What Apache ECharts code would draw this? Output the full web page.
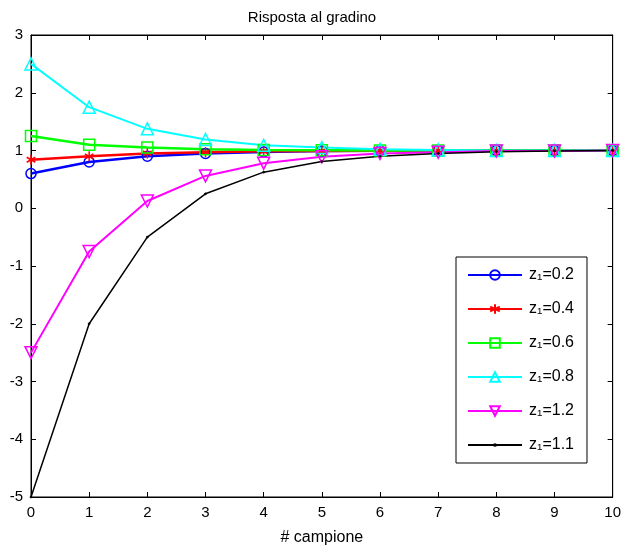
<!DOCTYPE html>
<html>
<head>
<meta charset="utf-8">
<script src="https://cdn.jsdelivr.net/npm/echarts@6/dist/echarts.min.js"></script>
<style>
  html, body { margin: 0; padding: 0; background: #fff; }
  #main { width: 624px; height: 554px; }
</style>
</head>
<body>
<div id="main"></div>
<script>
var samples = [0, 1, 2, 3, 4, 5, 6, 7, 8, 9, 10];
var names = ['z\u2081=0.2', 'z\u2081=0.4', 'z\u2081=0.6', 'z\u2081=0.8', 'z\u2081=1.2', 'z\u2081=1.1'];
var z02 = [0.6, 0.8, 0.9, 0.95, 0.975, 0.99, 0.995, 1, 1, 1, 1];
var z04 = [0.84, 0.9, 0.95, 0.97, 0.985, 0.99, 0.995, 1, 1, 1, 1];
var z06 = [1.25, 1.1, 1.05, 1.02, 1.01, 1.005, 1, 1, 1, 1, 1];
var z08 = [2.5, 1.75, 1.375, 1.19, 1.09, 1.05, 1.02, 1.01, 1, 1, 1];
var z12 = [-2.5, -0.75, 0.125, 0.56, 0.78, 0.89, 0.95, 0.97, 0.99, 0.99, 1];
var z11 = [-5, -2, -0.5, 0.25, 0.625, 0.81, 0.9, 0.95, 0.98, 0.99, 1];

var asterisk = 'path://M0,-5L0,5M-4.3,-2.5L4.3,2.5M-4.3,2.5L4.3,-2.5';
// small dot inside a larger invisible box so it stays small in the legend too
var dot = 'path://M-10,-10L-10,-10M10,10L10,10M-1.8,0A1.8,1.8,0,1,0,1.8,0A1.8,1.8,0,1,0,-1.8,0Z';
var font = 'Liberation Sans, Arial, sans-serif';

function pairs(vals) {
  return samples.map(function (x, i) { return [x, vals[i]]; });
}

function mkSeries(name, vals, color, symbol, size, width, rotate, filled) {
  return {
    name: name,
    type: 'line',
    data: pairs(vals),
    symbol: symbol,
    symbolSize: size,
    symbolRotate: rotate || 0,
    symbolKeepAspect: true,
    showAllSymbol: true,
    lineStyle: { color: color, width: width },
    itemStyle: { color: filled ? color : 'rgba(0,0,0,0)', borderColor: color, borderWidth: filled ? 0.5 : 1.5 },
    emphasis: { disabled: true },
    z: 2
  };
}

var tick = { inside: true, length: 5, lineStyle: { color: '#000' } };

var chart = echarts.init(document.getElementById('main'));
var option = {
  backgroundColor: '#fff',
  animation: false,
  title: {
    text: 'Risposta al gradino',
    left: 'center',
    top: 5,
    textStyle: { fontFamily: font, fontSize: 15, fontWeight: 'normal', color: '#000' }
  },
  grid: { left: 31, right: 6, top: 35, bottom: 57, show: true, borderColor: '#000', borderWidth: 1 },
  legend: {
    orient: 'vertical',
    left: 456,
    top: 257,
    padding: [10, 13, 10, 11],
    itemGap: 18,
    itemWidth: 54,
    itemHeight: 12,
    borderColor: '#000',
    borderWidth: 1,
    backgroundColor: '#fff',
    data: names,
    textStyle: { fontFamily: font, fontSize: 16, color: '#000', padding: [0, 0, 0, 2] }
  },
  xAxis: [{
    type: 'value', min: 0, max: 10, interval: 1,
    name: '# campione', nameLocation: 'middle', nameGap: 33,
    nameTextStyle: { fontFamily: font, fontSize: 16, color: '#000' },
    axisLine: { onZero: false, lineStyle: { color: '#000' } },
    axisTick: tick,
    axisLabel: { fontFamily: font, fontSize: 15, color: '#000', margin: 8 },
    splitLine: { show: false }
  }, {
    type: 'value', min: 0, max: 10, interval: 1, position: 'top',
    axisLine: { onZero: false, lineStyle: { color: '#000' } },
    axisTick: tick,
    axisLabel: { show: false },
    splitLine: { show: false }
  }],
  yAxis: [{
    type: 'value', min: -5, max: 3, interval: 1,
    axisLine: { show: true, onZero: false, lineStyle: { color: '#000' } },
    axisTick: Object.assign({ show: true }, tick),
    axisLabel: { fontFamily: font, fontSize: 15, color: '#000', margin: 8 },
    splitLine: { show: false }
  }, {
    type: 'value', min: -5, max: 3, interval: 1, position: 'right',
    axisLine: { show: true, onZero: false, lineStyle: { color: '#000' } },
    axisTick: Object.assign({ show: true }, tick),
    axisLabel: { show: false },
    splitLine: { show: false }
  }],
  series: [
    mkSeries(names[0], z02, '#0000ff', 'circle', 10, 2.5),
    mkSeries(names[1], z04, '#ff0000', asterisk, 10, 2.5),
    mkSeries(names[2], z06, '#00ff00', 'rect', 11, 2.5),
    mkSeries(names[3], z08, '#00ffff', 'triangle', 12, 2),
    mkSeries(names[4], z12, '#ff00ff', 'triangle', 12, 2, 180),
    mkSeries(names[5], z11, '#000000', dot, 12, 1.5, 0, true)
  ]
};
chart.setOption(option);
</script>
</body>
</html>
